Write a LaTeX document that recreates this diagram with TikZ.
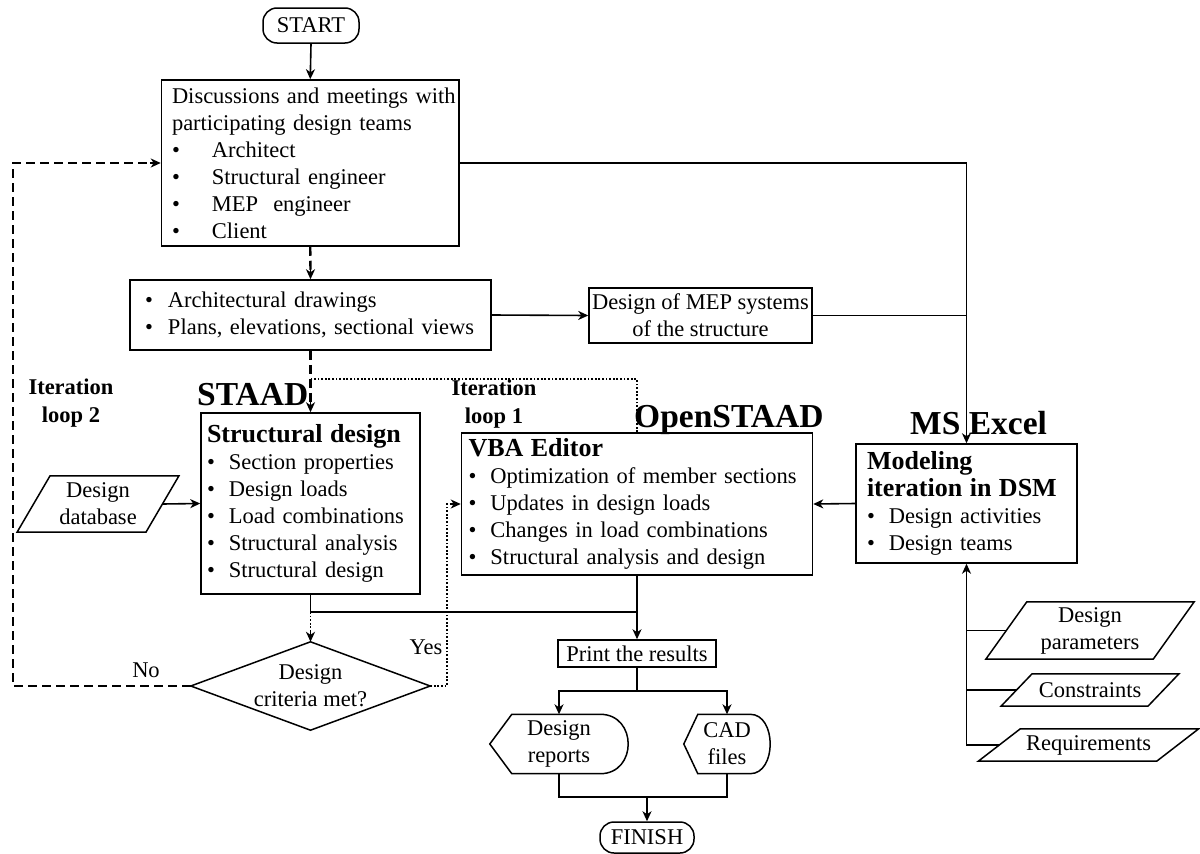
\documentclass[tikz,border=0pt]{standalone}
\usepackage{fontspec}
\setmainfont{Liberation Serif}
\usetikzlibrary{arrows.meta,calc}
\newcommand{\bitem}[2]{\mbox{\makebox[#1][l]{•}#2}}
\newcommand{\hdr}[1]{\mbox{\fontsize{26}{30}\selectfont\bfseries #1}}
\newcommand{\plgram}[2]{\draw[shp] ($(#1.north west)+(#2,0)$) -- ($(#1.north east)+(#2,0)$) -- ($(#1.south east)+(-#2,0)$) -- ($(#1.south west)+(-#2,0)$) -- cycle;}
\newcommand{\dispshape}[3]{\draw[shp] (#1.west) -- ($(#1.north west)+(#2,0)$) -- ($(#1.north east)+(-#3,0)$) .. controls ($(#1.north east)+({-#3+1.333*#3},0)$) and ($(#1.south east)+({-#3+1.333*#3},0)$) .. ($(#1.south east)+(-#3,0)$) -- ($(#1.south west)+(#2,0)$) -- cycle;}
\begin{document}
\begin{tikzpicture}[x=1pt,y=-1pt,
  every node/.style={font=\fontsize{22.5}{27}\selectfont},
  shp/.style={line width=1.5pt, line join=miter},
  box/.style={draw, line width=1.5pt, inner ysep=0pt, align=left},
  term/.style={draw, line width=1.5pt, rounded corners=14pt, inner sep=0pt},
  plain/.style={inner sep=0pt, align=center},
  big/.style={inner sep=0pt, font=\fontsize{33.5}{36}\selectfont\bfseries},
  lbl/.style={inner sep=0pt, align=center, font=\fontsize{22.5}{28}\selectfont\bfseries},
  ln/.style={line width=1.6pt},
  arr/.style={line width=1.6pt, -{Stealth[length=10pt,width=9pt,inset=3pt]}},
  dsh/.style={line width=2.4pt, dash pattern=on 9pt off 5pt},
  dot/.style={line width=1.8pt, dash pattern=on 1.8pt off 1.8pt}
]
\path[fill=white] (0,0) rectangle (1200,854);
\useasboundingbox (0,0) rectangle (1200,854);

% terminals
\node[term, minimum width=96pt, minimum height=35pt] (start) at (311,25.5) {START};
\node[term, minimum width=94pt, minimum height=31pt] (fin) at (647,837.5) {FINISH};

% main boxes
\node[box, minimum height=166pt, text width=276.5pt, inner xsep=10.5pt] (disc) at (310.25,163) {%
\mbox{Discussions and meetings with}\\
\mbox{participating design teams}\\
\bitem{40pt}{Architect}\\
\bitem{40pt}{Structural engineer}\\
\bitem{40pt}{MEP\ \ engineer}\\
\bitem{40pt}{Client}};

\node[box, minimum height=70pt, text width=331pt, inner xsep=15pt] (arch) at (310.5,315) {%
\bitem{23pt}{Architectural drawings}\\
\bitem{23pt}{Plans, elevations, sectional views}};

\node[box, minimum height=55pt, minimum width=223pt, inner xsep=2pt, align=center] (mep) at (700.5,315.5) {%
Design of MEP systems\\of the structure};

\node[box, minimum height=181pt, text width=207pt, inner xsep=6pt] (sd) at (310.5,503.5) {%
\hdr{Structural design}\\
\bitem{22pt}{Section properties}\\
\bitem{22pt}{Design loads}\\
\bitem{22pt}{Load combinations}\\
\bitem{22pt}{Structural analysis}\\
\bitem{22pt}{Structural design}};

\node[box, minimum height=142pt, text width=337pt, inner xsep=7pt] (vba) at (637,504) {%
\hdr{VBA Editor}\\
\bitem{22pt}{Optimization of member sections}\\
\bitem{22pt}{Updates in design loads}\\
\bitem{22pt}{Changes in load combinations}\\
\bitem{22pt}{Structural analysis and design}};

\node[box, minimum height=119pt, text width=199pt, inner xsep=11pt] (dsm) at (966.5,503.5) {%
\hdr{Modeling}\\
\hdr{iteration in DSM}\\
\bitem{22pt}{Design activities}\\
\bitem{22pt}{Design teams}};

\node[box, minimum height=27pt, minimum width=158pt, inner xsep=2pt, align=center] (pr) at (637,653.5) {Print the results};

% diamond
\node[plain, minimum width=239pt, minimum height=88pt] (dc) at (310.5,686) {Design\\criteria met?};
\draw[shp] (dc.west) -- (dc.north) -- (dc.east) -- (dc.south) -- cycle;

% parallelograms
\node[plain, minimum width=128.5pt, minimum height=56pt] (db) at (98,504) {Design\\database};
\plgram{db}{16.5}
\node[plain, minimum width=167pt, minimum height=57pt] (dp) at (1090,630.5) {Design\\parameters};
\plgram{dp}{20.5}
\node[plain, minimum width=146.5pt, minimum height=32pt] (con) at (1090,690) {Constraints};
\plgram{con}{15.5}
\node[plain, minimum width=178pt, minimum height=32pt] (req) at (1088.5,745) {Requirements};
\plgram{req}{21}

% display shapes
\node[plain, minimum width=138pt, minimum height=59pt] (dr) at (559,744) {Design\\reports};
\dispshape{dr}{22}{28}
\node[plain, minimum width=86pt, minimum height=59pt] (cad) at (727,744) {CAD\\files};
\dispshape{cad}{14}{20}

% labels
\node[big, anchor=base west] (staad) at (197,405) {STAAD};
\node[big, anchor=base west] (ostaad) at (634,427) {OpenSTAAD};
\node[big, anchor=base west] (excel) at (910,434) {MS Excel};
\node[lbl] (it2) at (71,403) {Iteration\\loop 2};
\node[lbl] (it1) at (494,404) {Iteration\\loop 1};
\node[plain] (no) at (146,670) {No};
\node[plain] (yes) at (426,647) {Yes};

% coordinates
\coordinate (l2) at (13,686);
\coordinate (l1) at (447,686);
\coordinate (r1) at (637,379);
\coordinate (j) at (310.5,612);
\coordinate (b) at (637,691);
\coordinate (m) at (647,797);

% connectors
\draw[arr] (start.south) -- (disc.north);
\draw[dsh] (disc.south) -- ($(arch.north)+(0,-8)$);
\draw[arr] ($(arch.north)+(0,-11)$) -- (arch.north);
\draw[dsh] (arch.south) -- ($(sd.north)+(0,-8)$);
\draw[arr] ($(sd.north)+(0,-11)$) -- (sd.north);
\draw[arr] (arch.east) -- (mep.west);
\draw[arr] (disc.east) -| (dsm.north);
\draw[ln] (mep.east) -- (mep.east -| dsm.north);
\draw[arr] (dsm.west) -- (vba.east);
\draw[arr] (db.east) -- (sd.west);
\draw[ln] (sd.south) -- (j) -- (j -| vba.south);
\draw[arr] (vba.south) -- (pr.north);
\draw[dot] (j) -- ($(dc.north)+(0,-8)$);
\draw[arr] ($(dc.north)+(0,-11)$) -- (dc.north);
\draw[dsh] (dc.west) -- (l2) |- ($(disc.west)+(-8,0)$);
\draw[arr] ($(disc.west)+(-11,0)$) -- (disc.west);
\draw[dot] (dc.east) -- (l1) |- ($(vba.west)+(-8,0)$);
\draw[arr] ($(vba.west)+(-11,0)$) -- (vba.west);
\draw[dot] (vba.north) -- (r1) -- (r1 -| sd.north);
\draw[ln] (pr.south) -- (b);
\draw[arr] (b) -| (dr.north);
\draw[arr] (b) -| (cad.north);
\draw[ln] (dr.south) |- (m) -| (cad.south);
\draw[arr] (m) -- (fin.north);
\draw[arr] (req.west) -| (dsm.south);
\draw[ln] (dp.west) -- (dp.west -| dsm.south);
\draw[ln] (con.west) -- (con.west -| dsm.south);
\end{tikzpicture}
\end{document}
